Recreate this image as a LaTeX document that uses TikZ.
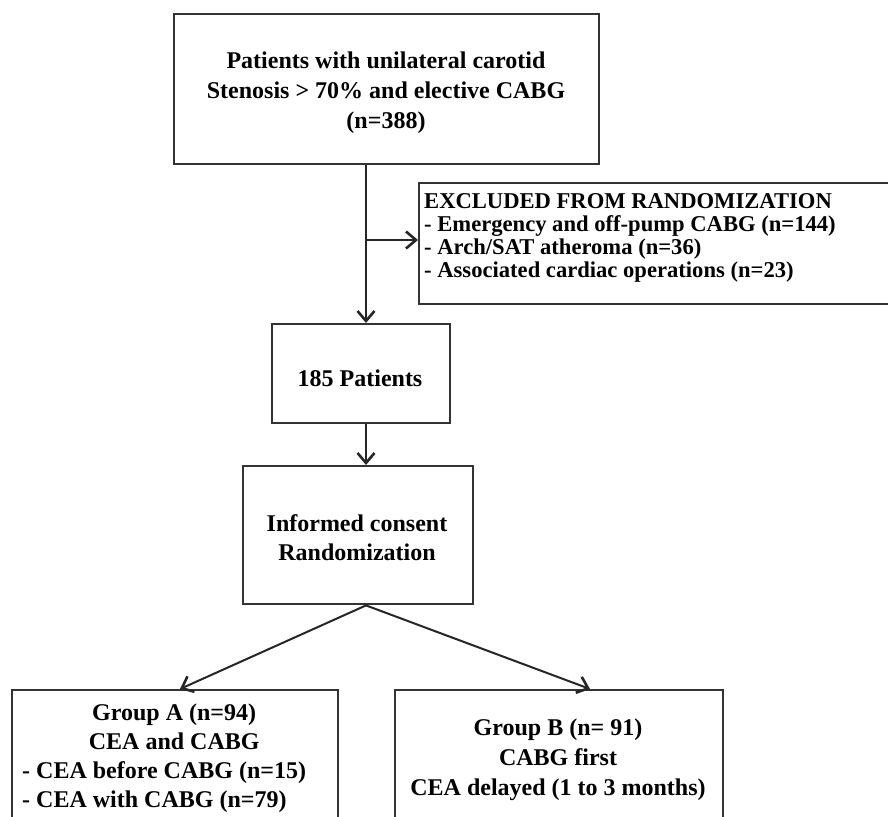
\documentclass[tikz,border=0pt]{standalone}
\usepackage{fontspec}
\setmainfont{Liberation Serif}
\usetikzlibrary{arrows.meta}
\begin{document}
\begin{tikzpicture}[x=1pt,y=-1pt,
  box/.style={draw=black!80, line width=2.4pt, inner sep=0pt, anchor=north west},
  txt/.style={font=\fontsize{24}{29}\selectfont\bfseries, align=center, inner sep=0pt, text=black},
  arr/.style={draw=black!85, line width=2pt, -{Straight Barb[length=10pt,width=17pt,line width=2.6pt]}},
]
\useasboundingbox (0,0) rectangle (888,816);
% boxes
\node[box, minimum width=425pt, minimum height=150pt] (top) at (173,13) {};
\node[box, minimum width=480pt, minimum height=121pt] (excl) at (418,182) {};
\node[box, minimum width=178pt, minimum height=99pt] (p185) at (271,323) {};
\node[box, minimum width=230pt, minimum height=138pt] (inf) at (242,465) {};
\node[box, minimum width=326pt, minimum height=160pt] (gA) at (11,689) {};
\node[box, minimum width=328pt, minimum height=160pt] (gB) at (394,689) {};
% texts
\node[txt, font=\fontsize{24}{30}\selectfont\bfseries] (topt) at (386,93)
  {Patients with unilateral carotid\\Stenosis > 70\% and elective CABG\\(n=388)};
\node[txt, font=\fontsize{22.6}{23}\selectfont\bfseries, align=left, anchor=north west] (exclt) at (424,193)
  {EXCLUDED FROM RANDOMIZATION\\- Emergency and off-pump CABG (n=144)\\- Arch/SAT atheroma (n=36)\\- Associated cardiac operations (n=23)};
\node[txt] (p185t) at (360,378) {185 Patients};
\node[txt] (inft) at (357,538) {Informed consent\\Randomization};
\node[txt, align=left, anchor=north west] (gAt) at (22,704)
  {\makebox[304pt]{Group A (n=94)}\\\makebox[304pt]{CEA and CABG}\\- CEA before CABG (n=15)\\- CEA with CABG (n=79)};
\node[txt, font=\fontsize{24}{30}\selectfont\bfseries, anchor=north] (gBt) at (558,719)
  {Group B (n= 91)\\CABG first\\CEA delayed (1 to 3 months)};
% connectors
\coordinate (sp) at (366,0);
\coordinate (br) at (366,240);
\draw[arr] (top.south -| sp) -- (p185.north -| sp);
\draw[arr] (br) -- (br -| excl.west);
\draw[arr] (p185.south -| sp) -- (inf.north -| sp);
\coordinate (apex) at (inf.south -| sp);
\draw[arr] (apex) -- ([xshift=169pt]gA.north west);
\draw[arr] (apex) -- ([xshift=196pt]gB.north west);
\end{tikzpicture}
\end{document}
